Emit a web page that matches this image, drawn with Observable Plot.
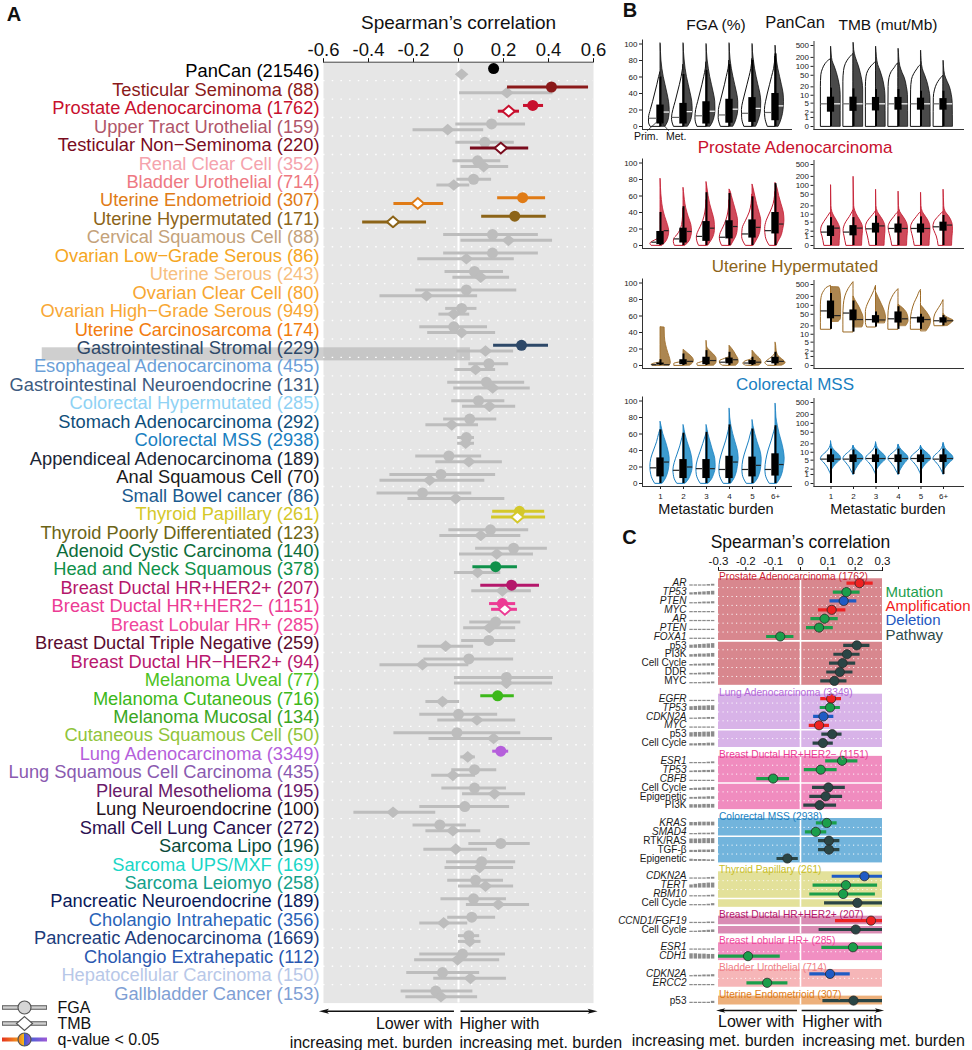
<!DOCTYPE html>
<html><head><meta charset="utf-8">
<script src="https://cdn.jsdelivr.net/npm/d3@7"></script>
<script src="https://cdn.jsdelivr.net/npm/@observablehq/plot@0.6"></script>
<style>
body{margin:0;background:#fff;}
#root{position:relative;width:972px;height:1050px;font-family:'Liberation Sans',Arial,Helvetica,sans-serif;overflow:hidden;background:#fff;}
.t{position:absolute;white-space:nowrap;line-height:1;}
svg{overflow:visible;}
</style></head><body>
<svg width="0" height="0" style="position:absolute">
 <defs>
  <linearGradient id="qline" gradientUnits="userSpaceOnUse" x1="2" y1="0" x2="47" y2="0">
   <stop offset="0" stop-color="#e5321e"/><stop offset="0.38" stop-color="#f39a1e"/><stop offset="0.5" stop-color="#f3c51e"/><stop offset="0.56" stop-color="#3d5fd6"/><stop offset="1" stop-color="#a05ad6"/>
  </linearGradient>
  <linearGradient id="qcirc" x1="0" x2="1" y1="0" y2="0">
   <stop offset="0" stop-color="#f07a1a"/><stop offset="0.5" stop-color="#f5c020"/><stop offset="0.5" stop-color="#3a5ad0"/><stop offset="1" stop-color="#9b55d6"/>
  </linearGradient>
 </defs>
</svg>
<div id="root"></div>
<script>
// ================= DATA: Panel A =================
const catNames = ["PanCan","Testicular Seminoma","Prostate Adenocarcinoma","Upper Tract Urothelial","Testicular Non\u2212Seminoma","Renal Clear Cell","Bladder Urothelial","Uterine Endometrioid","Uterine Hypermutated","Cervical Squamous Cell","Ovarian Low\u2212Grade Serous","Uterine Serous","Ovarian Clear Cell","Ovarian High\u2212Grade Serous","Uterine Carcinosarcoma","Gastrointestinal Stromal","Esophageal Adenocarcinoma","Gastrointestinal Neuroendocrine","Colorectal Hypermutated","Stomach Adenocarcinoma","Colorectal MSS","Appendiceal Adenocarcinoma","Anal Squamous Cell","Small Bowel cancer","Thyroid Papillary","Thyroid Poorly Differentiated","Adenoid Cystic Carcinoma","Head and Neck Squamous","Breast Ductal HR+HER2+","Breast Ductal HR+HER2\u2212","Breast Lobular HR+","Breast Ductal Triple Negative","Breast Ductal HR\u2212HER2+","Melanoma Uveal","Melanoma Cutaneous","Melanoma Mucosal","Cutaneous Squamous Cell","Lung Adenocarcinoma","Lung Squamous Cell Carcinoma","Pleural Mesothelioma","Lung Neuroendocrine","Small Cell Lung Cancer","Sarcoma Lipo","Sarcoma UPS/MXF","Sarcoma Leiomyo","Pancreatic Neuroendocrine","Cholangio Intrahepatic","Pancreatic Adenocarcinoma","Cholangio Extrahepatic","Hepatocellular Carcinoma","Gallbladder Cancer"];
const catN = [21546,88,1762,159,220,352,714,307,171,88,86,243,80,949,174,229,455,131,285,292,2938,189,70,86,261,123,140,378,207,1151,285,259,94,77,716,134,50,3349,435,195,100,272,196,169,258,189,356,1669,112,150,153];
const catColor = ["#000000","#8b1a1a","#c8102e","#b0566a","#7a0c1e","#f5a3ad","#ee7882","#e07b16","#8c6418","#c4a27a","#f5a623","#f7bf80","#f7a630","#f8a734","#f27c0e","#2d4868","#6b9fd8","#3d5a80","#8fd2f4","#0f4e7a","#1a7fc1","#1b2636","#1a1a1a","#1b5a8e","#d4c82a","#6b6416","#0b6b3a","#0f914a","#b5176b","#ec3b94","#f0459a","#5a0c30","#b8186e","#4cc21e","#3cb81a","#3aa61e","#90c43a","#b55fdb","#8a5ab0","#6a1a6a","#241020","#2a1050","#0a4a3a","#1ad6c7","#14a08a","#0a1a5a","#2a64b8","#1c3c7c","#2a58b0","#b8c8e8","#7fa0d4"];
const fgaEst = [0.156,0.413,0.33,0.147,0.117,0.085,0.067,0.285,0.25,0.151,0.151,0.071,0.035,0.014,-0.021,0.28,0.135,0.124,0.089,0.05,0.035,-0.043,-0.078,-0.16,0.271,0.142,0.245,0.165,0.236,0.195,0.165,0.135,0.046,0.213,0.174,0.0,-0.007,0.188,0.071,0.071,0.028,-0.083,0.188,0.103,0.076,0.067,0.059,0.046,0.018,-0.071,-0.101];
const fgaLo = [0.146,0.218,0.289,-0.012,-0.012,-0.025,-0.007,0.174,0.103,-0.066,-0.066,-0.06,-0.19,-0.057,-0.172,0.156,0.046,-0.048,-0.03,-0.066,-0.004,-0.19,-0.305,-0.362,0.152,-0.043,0.076,0.064,0.099,0.138,0.05,0.014,-0.154,-0.018,0.099,-0.172,-0.287,0.152,-0.03,-0.074,-0.172,-0.202,0.046,-0.053,-0.048,-0.078,-0.048,0,-0.172,-0.23,-0.255];
const fgaHi = [0.166,0.578,0.378,0.298,0.248,0.188,0.147,0.387,0.39,0.355,0.355,0.2,0.259,0.082,0.129,0.4,0.223,0.294,0.206,0.17,0.071,0.103,0.165,0.059,0.383,0.312,0.395,0.262,0.36,0.254,0.277,0.254,0.245,0.422,0.248,0.174,0.277,0.223,0.17,0.213,0.227,0.035,0.319,0.254,0.2,0.213,0.165,0.094,0.209,0.094,0.064];
const fgaSig = [1,1,1,0,0,0,0,1,1,0,0,0,0,0,0,1,0,0,0,0,0,0,0,0,1,0,0,1,1,1,0,0,0,0,1,0,0,1,0,0,0,0,0,0,0,0,0,0,0,0,0];
const tmbEst = [0.014,0.215,0.223,-0.048,0.188,0.112,-0.021,-0.181,-0.291,0.222,0.035,0.099,-0.142,-0.021,0.014,0.12,0.076,0.152,0.138,-0.03,0.032,0.046,-0.128,-0.012,0.262,0.099,0.17,0.085,0.195,0.206,0.138,-0.057,-0.16,0.213,-0.071,0.082,0.156,0.041,-0.025,0.16,-0.291,-0.025,-0.012,0.094,0.12,0.177,-0.066,0.05,-0.004,0.053,-0.078];
const tmbLo = [0.004,0.005,0.177,-0.202,0.053,0.011,-0.096,-0.287,-0.426,0.011,-0.181,-0.025,-0.349,-0.087,-0.137,-0.007,-0.016,-0.021,0.018,-0.145,-0.004,-0.101,-0.349,-0.225,0.147,-0.083,0.005,-0.018,0.059,0.147,0.023,-0.181,-0.349,-0.018,-0.145,-0.092,-0.131,0.01,-0.119,0.018,-0.465,-0.145,-0.154,-0.06,0,0.035,-0.172,0,-0.195,-0.11,-0.234];
const tmbHi = [0.024,0.42,0.271,0.112,0.312,0.223,0.05,-0.066,-0.142,0.418,0.248,0.227,0.085,0.05,0.165,0.245,0.165,0.319,0.254,0.089,0.071,0.195,0.117,0.206,0.387,0.277,0.333,0.188,0.324,0.262,0.254,0.067,0.046,0.418,0.005,0.254,0.418,0.075,0.076,0.298,-0.101,0.099,0.129,0.245,0.245,0.316,0.041,0.1,0.183,0.213,0.085];
const tmbSig = [0,0,1,0,1,0,0,1,1,0,0,0,0,0,0,0,0,0,0,0,0,0,0,0,1,0,0,0,0,1,0,0,0,0,0,0,0,0,0,0,0,0,0,0,0,0,0,0,0,0,0];
const ticksA = [-0.6,-0.4,-0.2,0,0.2,0.4,0.6];
const highlightA = [{x1: -1.85, x2: 0.053, row: 15, h: 0.69}];

// ================= DATA: Panel B =================
const burstLabels = ["1","2","3","4","5","6+"];
const fgaTicks = [0,20,40,60,80,100];
const tmbTicks = [0,1,2,5,10,20,50,100,200,500];
// half-violin outlines: "value:halfwidth(% of burst spacing)"
const panFgaPrim = ["0:44 5:50 10:50 20:42 30:32 40:23 50:14 60:6 66:0","0:42 5:48 10:50 20:44 30:34 40:25 50:16 60:8 70:2 75:0","0:40 5:46 10:48 20:45 30:36 40:27 50:18 60:10 70:3 78:0","0:38 5:44 10:47 20:46 30:38 40:29 50:20 60:12 70:4 80:0","0:36 5:42 10:45 20:46 30:40 40:31 50:22 60:13 70:5 82:0","0:34 5:40 10:44 20:46 30:41 40:33 50:24 60:15 70:6 85:0"];
const panFgaMet = ["0:22 5:32 10:37 20:40 30:37 40:30 50:22 60:14 70:8 80:4 90:2 100:0.8 101:0","0:20 5:30 10:36 20:40 30:38 40:31 50:23 60:15 70:9 80:5 90:2 100:0.8 101:0","0:18 5:28 10:34 20:39 30:38 40:32 50:24 60:16 70:10 80:5 90:2 99:0.8 100:0","0:17 5:26 10:32 20:38 30:38 40:33 50:25 60:17 70:10 80:5 90:2 100:0.8 101:0","0:16 5:24 10:30 20:37 30:38 40:34 50:26 60:18 70:11 80:6 90:2 99:0.8 100:0","0:14 5:22 10:28 20:35 30:37 40:35 50:28 60:20 70:12 80:6 90:2 97:0.8 98:0"];
const panFgaBox = [[0,3,26,60],[0,3,28,63],[0,3,30,68],[0,4,33,75],[0,5,35,80],[0,7,40,88]];
const panFgaMed = [[10,17.5],[11,18],[13,18.5],[14,21],[16,22],[17,25]];
const panTmbPrim = ["0:45 20:45 50:43 80:36 120:24 160:8 175:0","0:45 30:45 70:42 120:34 180:20 240:5 260:0","0:45 20:45 45:42 70:34 100:20 130:5 140:0","0:45 20:44 40:40 65:30 90:16 120:4 125:0","0:45 15:44 35:40 55:30 80:16 105:4 110:0","0:44 8:43 15:38 25:28 35:16 45:4 48:0"];
const panTmbMet = ["0:43 10:43 20:40 35:34 60:26 100:16 150:7 250:3 450:0.8 460:0","0:43 15:43 30:40 60:32 100:24 200:10 350:3 600:0.8 620:0","0:43 10:42 20:38 40:30 70:20 110:10 200:4 450:0.8 460:0","0:43 10:42 20:37 40:28 60:18 100:8 200:3 380:0.8 390:0","0:43 8:42 15:37 30:28 50:18 80:8 150:3 330:0.8 340:0","0:42 5:41 10:37 20:28 30:18 50:7 100:2 150:0.8 155:0"];
const panTmbBox = [[0,2,8.5,18],[0,2.2,8.5,17],[0,2.3,8.3,16],[0,2.5,8.3,16],[0,2.5,7.8,14],[0,2.5,7.5,14]];
const panTmbMed = [[4.7,4.7],[4.7,4.7],[4.7,4.7],[4.7,4.7],[4.7,4.7],[4.7,4.7]];
const proFgaPrim = ["0:40 2:44 4:38 6:24 8:10 10:3 12:0","0:38 4:42 8:40 12:28 18:14 25:6 35:2 45:0","0:33 5:40 10:42 15:38 22:26 30:14 40:5 50:1 55:0","0:33 5:40 10:42 15:38 22:26 30:14 40:5 50:1 55:0","0:30 5:40 10:45 20:43 30:28 40:12 50:4 60:1 62:0","0:26 5:36 10:42 20:45 30:38 40:22 50:8 60:2 65:0"];
const proFgaMet = ["0:10 5:26 10:34 17:38 25:32 35:20 45:11 55:6 70:2 80:0.6 81:0","0:10 5:26 10:33 17:37 25:34 35:22 45:12 55:6 65:2 70:0","0:8 5:20 10:30 20:37 30:35 40:26 50:16 60:9 70:4 77:0","0:8 5:18 10:28 20:36 30:37 40:30 50:20 60:10 66:4 68:0","0:6 5:16 10:26 20:36 30:38 40:30 50:20 60:12 70:4 74:0","0:6 5:14 10:24 20:34 30:39 40:36 50:26 60:16 70:8 76:0"];
const proFgaBox = [[0,1,17,40],[0,3,21,47],[0,5,29,64],[0,8,30,63],[0,9,31,59],[0,14,40,75]];
const proFgaMed = [[4,18],[8,17],[11,21],[10,23],[14,22],[18,26]];
const proTmbPrim = ["0:30 1:38 2:44 3:42 5:30 8:14 11:3 12:0","0:32 1:40 2:44 3:42 5:32 8:16 12:4 14:0","0:28 1:36 2:42 3:45 5:38 8:20 11:6 13:0","0:28 1:36 2:42 3:44 5:36 8:18 11:5 12:0","0:28 1:36 2:42 3:44 5:36 8:18 11:5 12:0","0:22 1:30 2:40 3:45 5:40 8:22 11:6 12:0"];
const proTmbMet = ["0:38 1:40 2:42 3:40 5:30 8:16 12:6 20:2 100:0.6 102:0","0:38 1:40 2:42 3:42 5:34 8:20 13:8 20:3 190:0.6 195:0","0:38 1:40 2:42 3:42 5:36 8:22 12:8 20:2 70:0.6 72:0","0:38 1:40 2:42 3:42 5:36 8:22 12:8 20:2 60:0.6 62:0","0:38 1:40 2:42 3:42 5:36 8:22 12:8 20:2 55:0.6 57:0","0:38 1:40 2:42 3:42 5:38 8:26 12:10 20:3 70:0.6 72:0"];
const proTmbBox = [[0,1,3.5,7.5],[0,1.1,3.6,7.5],[0,1.6,4.5,8.5],[0,1.6,4.2,8],[0,1.6,4.2,8],[0,2,5,9]];
const proTmbMed = [[1.8,2.8],[1.8,2.8],[2.6,3.5],[2.7,2.7],[2.7,2.7],[3.2,3.8]];
const uhFgaPrim = ["0:36 1:38 2:30 3:12 4:0","0:40 2:40 3:30 4:10 5:0","0:38 2:40 4:20 6:6 8:0","0:30 2:40 5:42 8:20 10:0","0:30 2:40 5:30 7:8 8:0","0:34 3:44 6:34 10:14 14:2 15:0"];
const uhFgaMet = ["0:40 3:45 8:42 15:34 25:24 35:19 46:18 46.5:0","0:30 3:42 6:45 10:38 14:22 18:5 19:0","0:34 4:44 8:44 12:36 16:22 20:8 23:2 29:0.6 30:0","0:30 4:40 8:38 12:30 16:22 20:12 23:3 24:0","0:30 3:40 7:36 10:26 14:12 17:3 18:0","0:30 3:44 6:36 9:22 13:10 18:5 24:3 27:1 28:0"];
const uhFgaBox = [[0,0.5,3,7],[0,1,7,14],[0,1,10,18],[0,2,9,16],[0,1,6,10],[0,2,10,16]];
const uhFgaMed = [[1,1],[4,5],[5,6],[4,7],[3,4],[5,5]];
const uhTmbPrim = ["15:45 40:45 100:45 180:42 300:30 400:15 450:0","12:45 40:45 100:43 200:36 350:22 500:8 600:0","18:40 25:45 60:45 100:38 180:22 300:8 450:0","15:45 40:45 100:40 180:28 280:12 350:0","15:45 30:45 60:40 120:28 200:14 300:4 330:0","20:40 30:42 50:36 80:20 120:6 150:0"];
const uhTmbMet = ["28:35 35:44 60:45 150:45 300:42 400:36 410:0","18:40 25:45 40:44 60:36 100:22 150:8 200:0","25:40 35:45 60:40 100:28 180:12 250:3 280:0","20:35 30:45 50:40 70:28 90:12 100:4 105:0","13:25 20:40 30:45 45:36 70:18 90:6 100:0","20:20 25:36 30:45 35:30 42:10 50:2 52:0"];
const uhTmbBox = [[15,35,140,250],[12,30,70,140],[18,25,45,60],[15,25,60,90],[15,25,40,50],[20,25,38,45]];
const uhTmbMed = [[65,45],[55,33],[33,32],[35,35],[38,33],[30,30]];
const crcFgaPrim = ["0:24 5:34 10:40 20:44 30:40 40:28 50:15 60:6 65:0","0:28 5:38 10:42 16:44 25:38 35:26 45:14 55:5 60:0","0:26 5:36 10:42 18:44 28:38 38:26 48:14 56:5 60:0","0:26 5:36 10:42 17:44 28:40 40:28 52:14 62:5 68:0","0:26 5:36 10:42 17:44 28:40 40:28 52:14 62:5 66:0","0:26 5:36 10:42 17:44 28:40 40:30 52:16 62:6 68:0"];
const crcFgaMet = ["0:10 5:22 10:30 20:38 30:40 40:34 50:24 60:12 70:4 75:0","0:10 5:24 10:32 20:40 30:38 40:30 50:18 60:8 70:1 71:0","0:10 5:24 10:32 20:40 30:38 40:28 50:18 60:8 70:1 71:0","0:8 5:20 10:28 20:36 30:40 40:36 50:26 60:16 70:8 80:3 90:0.8 91:0","0:8 5:22 10:30 20:38 30:40 40:34 50:22 60:12 70:4 77:0","0:8 5:20 10:28 20:36 30:40 40:36 50:28 60:18 70:10 80:4 96:0.8 97:0"];
const crcFgaBox = [[0,8,31,65],[0,6,29,61],[0,6,29,62],[0,6,33,71],[0,8,32,66],[0,9,36,70]];
const crcFgaMed = [[19,26],[16,20],[18,18],[17,26],[17,22],[17,23]];
const crcTmbPrim = ["1:0 1.5:6 2.5:16 4:32 5.5:45 7:40 10:20 14:6 20:0","1:0 1.5:8 2.5:18 4:34 5.5:45 7:40 10:20 13:5 17:0","1:0 1.5:6 2.5:16 4:32 5.5:45 7:40 10:20 14:6 21:0","1:0 1.5:8 2.5:18 4:34 5.5:45 7:40 10:20 13:5 18:0","1:0 1.5:6 2.5:16 4:32 5.5:45 7:40 10:20 13:5 17:0","1:0 1.5:6 2.5:16 4:32 5.5:45 7:40 10:20 14:6 20:0"];
const crcTmbMet = ["1.5:0 2.5:12 4:30 5.5:45 7:42 10:24 14:8 20:2 25:0","1:0 2:12 4:32 5.5:45 7:42 10:24 13:8 17:0","1.5:0 2.5:12 4:30 5.5:45 7:42 10:24 14:8 20:2 23:0","1:0 2:12 4:32 5.5:45 7:42 10:24 14:8 19:0","1.5:0 2.5:12 4:30 5.5:45 7:42 10:24 13:8 17:0","1.5:0 2.5:12 4:30 5.5:45 7:42 10:24 14:8 20:2 22:0"];
const crcTmbBox = [[0,4,8,13],[1,4,8,12],[0,4,8,13],[1,4,8,13],[0,4,8,12],[1,4,8,13]];
const crcTmbMed = [[5.5,5.5],[5.5,5.8],[5.8,5.8],[5.8,5.8],[5.8,5.8],[5.5,5.8]];

// ================= DATA: Panel C =================
const cGroupNames = ["Prostate Adenocarcinoma","Lung Adenocarcinoma","Breast Ductal HR+HER2\u2212","Colorectal MSS","Thyroid Papillary","Breast Ductal HR+HER2+","Breast Lobular HR+","Bladder Urothelial","Uterine Endometrioid"];
const cGroupN = [1762,3349,1151,2938,261,207,285,714,307];
const cGroupColor = ["#cc1f36","#b468d8","#ec3b94","#1a7fc1","#c9be28","#b5176b","#f0459a","#f07f86","#e07b16"];
const cGroupBg = ["#d8878e","#d8b3e8","#f08cbf","#72b4dc","#e3e19a","#d98cb4","#f18fc2","#f6b6b8","#edb07b"];
const cFeature = ["AR","TP53","PTEN","MYC","AR","PTEN","FOXA1","p53","PI3K","Cell Cycle","DDR","MYC","EGFR","TP53","CDKN2A","MYC","p53","Cell Cycle","ESR1","TP53","CBFB","Cell Cycle","Epigenetic","PI3K","KRAS","SMAD4","RTK/RAS","TGF-\u03b2","Epigenetic","CDKN2A","TERT","RBM10","Cell Cycle","CCND1/FGF19","Cell Cycle","ESR1","CDH1","CDKN2A","ERCC2","p53"];
const cGroupOf = [0,0,0,0,0,0,0,0,0,0,0,0,1,1,1,1,1,1,2,2,2,2,2,2,3,3,3,3,3,4,4,4,4,5,5,6,6,7,7,8];
const cType = ["A","M","D","A","M","M","M","P","P","P","P","P","A","M","D","A","P","P","M","M","M","P","P","P","M","M","P","P","P","D","M","M","P","A","P","M","M","D","M","P"];
const cEst = [0.216,0.168,0.158,0.114,0.088,0.068,-0.074,0.206,0.17,0.154,0.144,0.124,0.112,0.108,0.084,0.068,0.116,0.082,0.152,0.074,-0.1,0.102,0.092,0.07,0.096,0.056,0.104,0.104,-0.048,0.234,0.166,0.156,0.208,0.258,0.202,0.192,-0.192,0.108,-0.122,0.194];
const cLo = [0.17,0.12,0.108,0.066,0.038,0.022,-0.124,0.158,0.122,0.106,0.096,0.074,0.074,0.072,0.048,0.032,0.078,0.046,0.092,0.014,-0.16,0.044,0.034,0.012,0.058,0.018,0.066,0.066,-0.086,0.116,0.046,0.034,0.088,0.128,0.068,0.078,-0.31,0.034,-0.196,0.082];
const cHi = [0.266,0.218,0.206,0.166,0.138,0.12,-0.024,0.254,0.218,0.202,0.192,0.17,0.15,0.146,0.122,0.106,0.152,0.12,0.21,0.134,-0.04,0.164,0.154,0.132,0.134,0.096,0.144,0.144,-0.008,0.35,0.282,0.274,0.33,0.39,0.33,0.31,-0.074,0.182,-0.046,0.31];
const cFreq = [[0.1,0.1,0.15,0.2,0.25,0.3],[0.35,0.4,0.45,0.5,0.55,0.6],[0.2,0.2,0.25,0.3,0.3,0.35],[0.1,0.1,0.15,0.15,0.2,0.2],[0.05,0.05,0.1,0.1,0.15,0.15],[0.05,0.1,0.1,0.1,0.15,0.15],[0.15,0.15,0.1,0.1,0.1,0.1],[0.5,0.55,0.6,0.65,0.7,0.75],[0.4,0.45,0.5,0.5,0.55,0.6],[0.25,0.3,0.3,0.35,0.35,0.4],[0.25,0.25,0.3,0.3,0.35,0.35],[0.15,0.2,0.2,0.25,0.25,0.3],
 [0.05,0.05,0.1,0.1,0.1,0.15],[0.6,0.65,0.7,0.7,0.75,0.75],[0.2,0.2,0.25,0.25,0.3,0.3],[0.05,0.1,0.1,0.1,0.15,0.15],[0.7,0.75,0.75,0.8,0.8,0.85],[0.35,0.35,0.4,0.4,0.45,0.45],
 [0.05,0.1,0.15,0.2,0.25,0.3],[0.25,0.3,0.3,0.35,0.35,0.4],[0.1,0.1,0.05,0.05,0.05,0.05],[0.3,0.35,0.35,0.4,0.4,0.45],[0.3,0.3,0.35,0.35,0.4,0.4],[0.55,0.55,0.55,0.6,0.6,0.6],
 [0.55,0.55,0.6,0.6,0.6,0.6],[0.2,0.2,0.25,0.25,0.25,0.3],[0.75,0.75,0.75,0.8,0.8,0.8],[0.35,0.35,0.4,0.4,0.4,0.45],[0.35,0.3,0.3,0.3,0.25,0.25],
 [0.05,0.05,0.1,0.15,0.25,0.3],[0.5,0.6,0.7,0.75,0.8,0.8],[0.05,0.05,0.1,0.2,0.25,0.3],[0.05,0.1,0.15,0.2,0.25,0.35],
 [0.1,0.1,0.1,0.2,0.25,0.25],[0.2,0.2,0.25,0.3,0.35,0.4],
 [0.05,0.05,0.1,0.15,0.2,0.25],[0.85,0.85,0.8,0.8,0.75,0.75],
 [0.2,0.25,0.25,0.3,0.3,0.35],[0.15,0.15,0.1,0.1,0.1,0.05],
 [0.1,0.1,0.15,0.15,0.2,0.35]];
const cTypes = ["M","A","D","P"];
const cTypeLabel = ["Mutation","Amplification","Deletion","Pathway"];
const cTypeColor = ["#1b9e4b","#ee2222","#1f5bc4","#2a4545"];
const cTypeText = ["#1e9e4e","#f21c1c","#2358c0","#2e4a4a"];
const ticksC = [-0.3,-0.2,-0.1,0,0.1,0.2,0.3];

// ================= RENDER =================
const FONT = "'Liberation Sans', Arial, Helvetica, sans-serif";
const root = document.getElementById("root");
function place(node, left, top) {
  const d = document.createElement("div");
  d.style.cssText = `position:absolute;left:${left}px;top:${top}px;`;
  d.append(node); root.append(d);
}
function txt(s, x, y, o = {}) {
  const d = document.createElement("div");
  d.className = "t"; d.textContent = s;
  const ax = o.anchor === "start" ? "0" : o.anchor === "end" ? "-100%" : "-50%";
  d.style.cssText += `left:${x}px;top:${y}px;transform:translate(${ax},-50%);font-size:${o.size||16}px;color:${o.color||"#111"};font-weight:${o.weight||"normal"};`;
  root.append(d);
}
const fmtTick = d => d === 0 ? "0" : (d < 0 ? "-" : "") + Math.abs(d).toFixed(1);
const diamondSym = {draw(ctx, size) { const r = Math.sqrt(size / Math.PI); const v = r * 0.86; ctx.moveTo(0, -v); ctx.lineTo(r, 0); ctx.lineTo(0, v); ctx.lineTo(-r, 0); ctx.closePath(); }};
const headRight = {draw(ctx, size) { const r = Math.sqrt(size / Math.PI); ctx.moveTo(r, 0); ctx.lineTo(-r, -r * 0.5); ctx.lineTo(-r * 0.55, 0); ctx.lineTo(-r, r * 0.5); ctx.closePath(); }};
const headLeft = {draw(ctx, size) { const r = Math.sqrt(size / Math.PI); ctx.moveTo(-r, 0); ctx.lineTo(r, -r * 0.5); ctx.lineTo(r * 0.55, 0); ctx.lineTo(r, r * 0.5); ctx.closePath(); }};

// ---------- Panel A ----------
const GRAY = "#bdbdbd";
const OFF = 0.155;
const rowsA = catNames.map((name, i) => ({
  i, label: `${name} (${catN[i]})`, color: catColor[i],
  fga: fgaEst[i], fgaLo: fgaLo[i], fgaHi: fgaHi[i], fgaSig: fgaSig[i],
  tmb: tmbEst[i], tmbLo: tmbLo[i], tmbHi: tmbHi[i], tmbSig: tmbSig[i]
}));
const boundsA = rowsA.slice(1).map(d => d.i - 0.5);
const arrowRowA = 50.94;
const arrowsA = [{from: -0.018, to: -0.598}, {from: 0.011, to: 0.596}];
const bottomTextA = [
  {t: "Lower with", x: -0.027, y: 51.62, a: "end"}, {t: "increasing met. burden", x: -0.027, y: 52.63, a: "end"},
  {t: "Higher with", x: 0.004, y: 51.62, a: "start"}, {t: "increasing met. burden", x: 0.004, y: 52.63, a: "start"}];

const chartA = Plot.plot({
  width: 620, height: 1050,
  marginLeft: 323, marginRight: 27, marginTop: 61.7, marginBottom: 47.4,
  style: {fontFamily: FONT, fontSize: "18.5px", color: "#111", background: "transparent", overflow: "visible"},
  color: {type: "identity"},
  x: {domain: [-0.6, 0.6], axis: "top", ticks: ticksA, tickFormat: fmtTick, tickSize: 4.5, tickPadding: 2, label: null},
  y: {domain: [-0.5, 50.5], reverse: true, axis: null},
  marks: [
    Plot.frame({fill: "#e6e6e6", stroke: "none"}),
    Plot.ruleX([0], {stroke: "white", strokeWidth: 2}),
    Plot.rect(highlightA, {x1: "x1", x2: "x2", y1: d => d.row - 0.02, y2: d => d.row + d.h, fill: "#b2b2b2", fillOpacity: 0.62}),
    Plot.ruleY(boundsA, {stroke: "white", strokeWidth: 1.4, strokeDasharray: "1.5 7.2"}),
    Plot.ruleY([-0.5], {stroke: "#444", strokeWidth: 1}),
    Plot.ruleY(rowsA, {filter: d => !d.fgaSig, y: d => d.i - OFF, x1: "fgaLo", x2: "fgaHi", stroke: GRAY, strokeWidth: 3}),
    Plot.ruleY(rowsA, {filter: d => !d.tmbSig, y: d => d.i + OFF, x1: "tmbLo", x2: "tmbHi", stroke: GRAY, strokeWidth: 3}),
    Plot.dot(rowsA, {filter: d => !d.fgaSig, x: "fga", y: d => d.i - OFF, r: 5.5, fill: GRAY}),
    Plot.dot(rowsA, {filter: d => !d.tmbSig, x: "tmb", y: d => d.i + OFF, r: 6.8, symbol: diamondSym, fill: GRAY}),
    Plot.ruleY(rowsA, {filter: d => d.fgaSig, y: d => d.i - OFF, x1: "fgaLo", x2: "fgaHi", stroke: "color", strokeWidth: 3}),
    Plot.ruleY(rowsA, {filter: d => d.tmbSig, y: d => d.i + OFF, x1: "tmbLo", x2: "tmbHi", stroke: "color", strokeWidth: 3}),
    Plot.dot(rowsA, {filter: d => d.fgaSig, x: "fga", y: d => d.i - OFF, r: 5.5, fill: "color"}),
    Plot.dot(rowsA, {filter: d => d.tmbSig, x: "tmb", y: d => d.i + OFF, r: 6.2, symbol: diamondSym, fill: "white", stroke: "color", strokeWidth: 2}),
    Plot.text(rowsA, {x: () => -0.6, y: "i", dx: -4, text: "label", fill: "color", textAnchor: "end", fontSize: 18.3}),
    Plot.text(["Spearman\u2019s correlation"], {x: () => 0, y: () => -0.5, dy: -39, text: d => d, fontSize: 19, fill: "#111"}),
    Plot.ruleY(arrowsA, {y: () => arrowRowA, x1: "from", x2: "to", stroke: "#111", strokeWidth: 1.6}),
    Plot.dot([arrowsA[0]], {x: "to", y: () => arrowRowA, r: 5, symbol: headLeft, fill: "#111"}),
    Plot.dot([arrowsA[1]], {x: "to", y: () => arrowRowA, r: 5, symbol: headRight, fill: "#111"}),
    Plot.text(bottomTextA.filter(d => d.a === "end"), {x: "x", y: "y", text: "t", textAnchor: "end", fontSize: 16, fill: "#111"}),
    Plot.text(bottomTextA.filter(d => d.a === "start"), {x: "x", y: "y", text: "t", textAnchor: "start", fontSize: 16, fill: "#111"})
  ]
});
place(chartA, 0, 0);

// legend of panel A
const legendA = ["FGA", "TMB", "q-value < 0.05"];
const chartLegA = Plot.plot({
  width: 200, height: 56, margin: 0,
  style: {fontFamily: FONT, fontSize: "16px", background: "transparent", overflow: "visible"},
  x: {domain: [0, 200], range: [0, 200], axis: null},
  y: {type: "point", domain: legendA, range: [10.7, 43], padding: 0, axis: null},
  marks: [
    Plot.ruleY(legendA.slice(0, 2), {y: d => d, x1: 2, x2: 47, stroke: "#555", strokeWidth: 4.6}),
    Plot.ruleY(legendA.slice(0, 2), {y: d => d, x1: 2.8, x2: 46.2, stroke: "#d0d0d0", strokeWidth: 2.4}),
    Plot.ruleY(legendA.slice(2), {y: d => d, x1: 2, x2: 47, stroke: "url(#qline)", strokeWidth: 4}),
    Plot.dot(legendA.slice(0, 1), {x: () => 24, y: d => d, r: 6.5, fill: "#d6d6d6", stroke: "#555", strokeWidth: 1.2}),
    Plot.dot(legendA.slice(1, 2), {x: () => 24, y: d => d, r: 8, symbol: diamondSym, fill: "white", stroke: "#555", strokeWidth: 1.2}),
    Plot.dot(legendA.slice(2), {x: () => 24, y: d => d, r: 6.5, fill: "url(#qcirc)", stroke: "#555", strokeWidth: 1.2}),
    Plot.text(legendA, {x: () => 57, y: d => d, text: d => d, textAnchor: "start", fontSize: 16, fill: "#111"})
  ]
});
place(chartLegA, 0, 996);

// ---------- Panel B ----------
function parseShape(s) { return s.trim().split(/\s+/).map(t => { const [v, w] = t.split(":").map(Number); return {v, w: w / 100}; }); }
function widthAt(pts, v) {
  for (let j = 1; j < pts.length; j++) {
    if (v <= pts[j].v) { const a = pts[j - 1], b = pts[j]; const t = (v - a.v) / ((b.v - a.v) || 1); return a.w + t * (b.w - a.w); }
  }
  return 0;
}
function violinChart(cfg) {
  const primP = cfg.prim.map(parseShape), metP = cfg.met.map(parseShape);
  const primPts = primP.flatMap((pts, i) => pts.map(p => ({...p, k: i + 1})));
  const metPts = metP.flatMap((pts, i) => pts.map(p => ({...p, k: i + 1})));
  const boxes = cfg.box.map((b, i) => ({k: i + 1, lo: b[0], q1: b[1], q3: b[2], hi: b[3],
    mp: cfg.med[i][0], mm: cfg.med[i][1], wp: widthAt(primP[i], cfg.med[i][0]), wm: widthAt(metP[i], cfg.med[i][1])}));
  const top = cfg.y0 - 95;
  const height = cfg.xAxis ? 122 : 118;
  const rangeTop = 95 - cfg.span;
  const marks = [
    Plot.areaX(primPts, {z: "k", y: "v", x1: d => d.k - d.w, x2: "k", fill: "white", stroke: cfg.outline, strokeWidth: 1, curve: "monotone-y"}),
    Plot.areaX(metPts, {z: "k", y: "v", x1: "k", x2: d => d.k + d.w, fill: cfg.fill, stroke: cfg.outline, strokeWidth: 0.8, curve: "monotone-y"}),
    Plot.ruleX(boxes, {x: "k", y1: "lo", y2: "hi", stroke: "#000", strokeWidth: 2}),
    Plot.rect(boxes, {x1: d => d.k - 0.16, x2: d => d.k + 0.16, y1: "q1", y2: "q3", fill: "#000"}),
    Plot.ruleY(boxes, {y: "mp", x1: d => d.k - d.wp, x2: d => d.k - 0.16, stroke: cfg.primMed, strokeWidth: 1.2}),
    Plot.ruleY(boxes, {y: "mm", x1: d => d.k + 0.16, x2: d => d.k + d.wm, stroke: cfg.metMed, strokeWidth: 1.2}),
    Plot.frame({anchor: "left", stroke: "#333", strokeWidth: 1}),
    Plot.frame({anchor: "bottom", stroke: "#333", strokeWidth: 1})
  ];
  if (cfg.extra) marks.push(...cfg.extra);
  const chart = Plot.plot({
    width: cfg.width, height,
    marginLeft: cfg.ml, marginRight: cfg.mr, marginTop: rangeTop - 4, marginBottom: height - 98,
    style: {fontFamily: FONT, fontSize: "8px", color: "#222", background: "transparent", overflow: "visible"},
    x: {domain: cfg.xDom, axis: cfg.xAxis ? "bottom" : null, ticks: [1, 2, 3, 4, 5, 6], tickFormat: d => burstLabels[d - 1], tickSize: 3, tickPadding: 4, label: null},
    y: cfg.log ? {type: "symlog", constant: 1, domain: [0, 500], range: [95, rangeTop], ticks: tmbTicks, tickFormat: d => String(d), tickSize: 3, tickPadding: 2, label: null}
               : {domain: [0, 100], range: [95, rangeTop], ticks: fgaTicks, tickFormat: d => String(d), tickSize: 3, tickPadding: 2, label: null},
    marks
  });
  place(chart, cfg.left, top);
}
const primMetLinks = [{x1: 0.42, y1: -5.2, x2: 0.857, y2: 6}, {x1: 1.36, y1: -5.2, x2: 1.04, y2: 4.8}];
const primMetText = [{t: "Prim.", x: 0.38, y: -12}, {t: "Met.", x: 1.68, y: -12}];
const bRows = [
  {title: "PanCan", tColor: "#111", y0: 125.9, outline: "#111", fill: "#4a4a4a", primMed: "#666", metMed: "#ffffff",
   fga: [panFgaPrim, panFgaMet, panFgaBox, panFgaMed], tmb: [panTmbPrim, panTmbMet, panTmbBox, panTmbMed]},
  {title: "Prostate Adenocarcinoma", tColor: "#c8102e", y0: 245.4, outline: "#c41a30", fill: "#cf4a5a", primMed: "#222", metMed: "#222",
   fga: [proFgaPrim, proFgaMet, proFgaBox, proFgaMed], tmb: [proTmbPrim, proTmbMet, proTmbBox, proTmbMed]},
  {title: "Uterine Hypermutated", tColor: "#8c6418", y0: 364.5, outline: "#9c6a25", fill: "#ac8650", primMed: "#222", metMed: "#222",
   fga: [uhFgaPrim, uhFgaMet, uhFgaBox, uhFgaMed], tmb: [uhTmbPrim, uhTmbMet, uhTmbBox, uhTmbMed]},
  {title: "Colorectal MSS", tColor: "#1a7fc1", y0: 482.8, outline: "#1a80c2", fill: "#3d9ccf", primMed: "#222", metMed: "#222",
   fga: [crcFgaPrim, crcFgaMet, crcFgaBox, crcFgaMed], tmb: [crcTmbPrim, crcTmbMet, crcTmbBox, crcTmbMed]}
];
bRows.forEach((r, ri) => {
  const isLast = ri === bRows.length - 1;
  violinChart({left: 612, width: 182, ml: 30, mr: 3, xDom: [0.2174, 6.696], y0: r.y0, span: 82.5, log: false,
    prim: r.fga[0], met: r.fga[1], box: r.fga[2], med: r.fga[3], outline: r.outline, fill: r.fill, primMed: r.primMed, metMed: r.metMed,
    xAxis: isLast,
    extra: ri === 0 ? [
      Plot.link(primMetLinks, {x1: "x1", y1: "y1", x2: "x2", y2: "y2", stroke: "#222", strokeWidth: 0.8}),
      Plot.text(primMetText, {x: "x", y: "y", text: "t", fontSize: 10.5, fill: "#111"})] : null});
  violinChart({left: 790, width: 175, ml: 23.5, mr: 2, xDom: [0.2444, 6.889], y0: r.y0, span: 81, log: true,
    prim: r.tmb[0], met: r.tmb[1], box: r.tmb[2], med: r.tmb[3], outline: r.outline, fill: r.fill, primMed: r.primMed, metMed: r.metMed,
    xAxis: isLast});
  if (ri > 0) txt(r.title, 795, r.y0 - 98.5, {size: 17, color: r.tColor});
});
txt("FGA (%)", 716, 25, {size: 15.5});
txt("PanCan", 795, 22, {size: 16.5});
txt("TMB (mut/Mb)", 888, 25, {size: 15.5});
txt("Metastatic burden", 716, 509, {size: 14.5});
txt("Metastatic burden", 888, 509, {size: 14.5});

// ---------- Panel C ----------
let slot = 0;
const groupsC = [], rowsC = [];
cGroupNames.forEach((name, g) => {
  const titleSlot = slot++;
  const first = slot;
  cGroupOf.forEach((gg, j) => {
    if (gg === g) rowsC.push({j, g, slot: slot++, feature: cFeature[j], type: cType[j], est: cEst[j], lo: cLo[j], hi: cHi[j], freq: cFreq[j],
      color: cTypeColor[cTypes.indexOf(cType[j])]});
  });
  groupsC.push({g, label: `${name} (${cGroupN[g]})`, color: cGroupColor[g], bg: cGroupBg[g], titleSlot, first, last: slot - 1});
});
const sepC = [], dotC = [];
for (let j = 1; j < rowsC.length; j++) {
  const a = rowsC[j - 1], b = rowsC[j];
  if (a.g !== b.g) continue;
  if (a.type !== "P" && b.type === "P") sepC.push(b.slot - 0.5); else dotC.push(b.slot - 0.5);
}
const BAR_X0 = -0.405, BAR_W = 0.0158;
const barsC = rowsC.flatMap(r => r.freq.map((f, b) => ({slot: r.slot, b, f})));
const legendC = cTypes.map((t, i) => ({label: cTypeLabel[i], color: cTypeText[i], y: 2 + 1.6 * i}));
const arrowRowC = 49.12;
const arrowsC = [{from: -0.011, to: -0.292}, {from: 0.006, to: 0.289}];
const bottomTextC = [
  {t: "Lower with", x: -0.022, y: 50.44, a: "end"}, {t: "increasing met. burden", x: -0.022, y: 52.5, a: "end"},
  {t: "Higher with", x: 0.006, y: 50.44, a: "start"}, {t: "increasing met. burden", x: 0.006, y: 52.5, a: "start"}];

const chartC = Plot.plot({
  width: 360, height: 530,
  marginLeft: 106, marginRight: 90, marginTop: 50, marginBottom: 45.5,
  style: {fontFamily: FONT, fontSize: "11.5px", color: "#111", background: "transparent", overflow: "visible"},
  color: {type: "identity"},
  x: {domain: [-0.3, 0.3], axis: "top", ticks: ticksC, tickFormat: fmtTick, tickSize: 4, tickPadding: 1.5, label: null},
  y: {domain: [-0.43, 48.5], reverse: true, axis: null},
  marks: [
    Plot.ruleY([-0.43], {stroke: "#444", strokeWidth: 1}),
    Plot.rect(groupsC, {x1: () => -0.3, x2: () => 0.3, y1: d => d.first - 0.5, y2: d => d.last + 0.5, fill: "bg"}),
    Plot.ruleX(groupsC, {x: () => 0, y1: d => d.first - 0.5, y2: d => d.last + 0.5, stroke: "white", strokeWidth: 1.6}),
    Plot.ruleY(dotC, {x1: -0.3, x2: 0.3, stroke: "white", strokeWidth: 0.9, strokeDasharray: "1.2 3.3"}),
    Plot.ruleY(sepC, {x1: -0.3, x2: 0.3, stroke: "white", strokeWidth: 1.6}),
    Plot.ruleY(rowsC, {y: "slot", x1: "lo", x2: "hi", stroke: "color", strokeWidth: 3.2, clip: true}),
    Plot.dot(rowsC, {x: "est", y: "slot", r: 4.6, fill: "color", stroke: "#2a2a2a", strokeWidth: 0.8}),
    Plot.rect(barsC, {x1: d => BAR_X0 + d.b * BAR_W, x2: d => BAR_X0 + d.b * BAR_W + BAR_W * 0.8,
      y1: d => d.slot + 0.33, y2: d => d.slot + 0.33 - Math.max(0.14, d.f * 0.7), fill: "#8c8c8c"}),
    Plot.text(rowsC.filter(d => d.type !== "P"), {x: () => -0.3, dx: -32, y: "slot", text: "feature", textAnchor: "end", fontSize: 10, fontStyle: "italic", fill: "#1a1a1a"}),
    Plot.text(rowsC.filter(d => d.type === "P"), {x: () => -0.3, dx: -32, y: "slot", text: "feature", textAnchor: "end", fontSize: 10, fill: "#1a1a1a"}),
    Plot.text(groupsC, {x: () => -0.3, dx: 0.5, y: d => d.titleSlot + 0.3, text: "label", fill: "color", textAnchor: "start", fontSize: 10.2}),
    Plot.text(legendC, {x: () => 0.3, dx: 3, y: "y", text: "label", fill: "color", textAnchor: "start", fontSize: 15}),
    Plot.text(["Spearman\u2019s correlation"], {x: () => 0, y: () => -0.43, dy: -28, text: d => d, fontSize: 17.5, fill: "#111"}),
    Plot.ruleY(arrowsC, {y: () => arrowRowC, x1: "from", x2: "to", stroke: "#111", strokeWidth: 1.5}),
    Plot.dot([arrowsC[0]], {x: "to", y: () => arrowRowC, r: 4.6, symbol: headLeft, fill: "#111"}),
    Plot.dot([arrowsC[1]], {x: "to", y: () => arrowRowC, r: 4.6, symbol: headRight, fill: "#111"}),
    Plot.text(bottomTextC.filter(d => d.a === "end"), {x: "x", y: "y", text: "t", textAnchor: "end", fontSize: 16, fill: "#111"}),
    Plot.text(bottomTextC.filter(d => d.a === "start"), {x: "x", y: "y", text: "t", textAnchor: "start", fontSize: 16, fill: "#111"})
  ]
});
place(chartC, 612, 520);

// panel letters
txt("A", 14, 13.5, {size: 20, weight: "bold"});
txt("B", 630, 10, {size: 20, weight: "bold"});
txt("C", 629.5, 536.5, {size: 20, weight: "bold"});
</script></body></html>
